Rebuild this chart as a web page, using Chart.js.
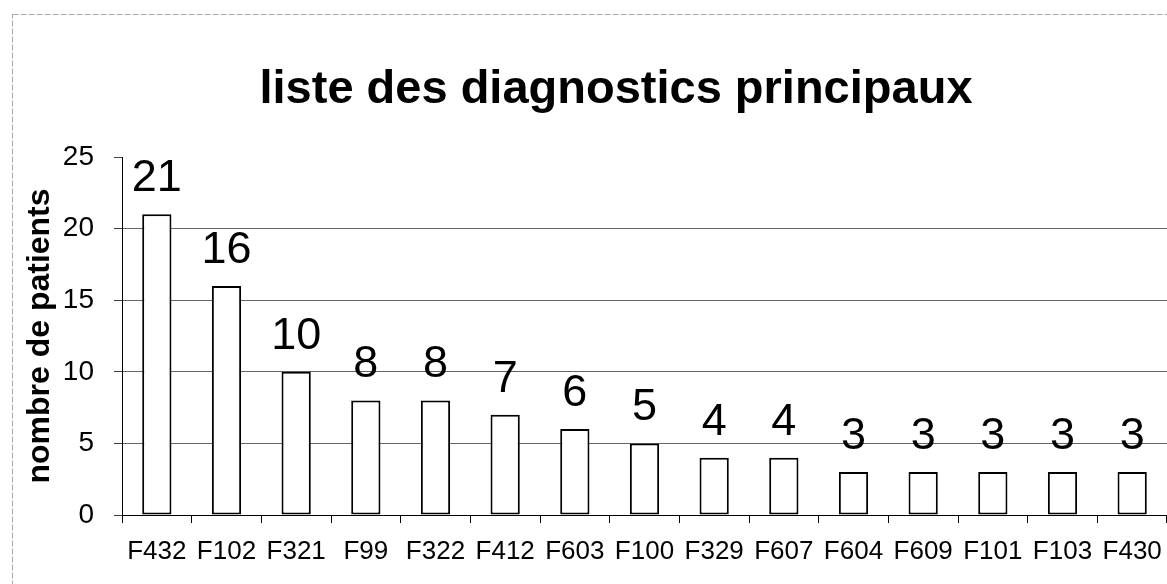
<!DOCTYPE html>
<html>
<head>
<meta charset="utf-8">
<script src="https://cdn.jsdelivr.net/npm/chart.js@4/dist/chart.umd.min.js"></script>
<style>
html,body{margin:0;padding:0;background:#fff;}
#wrap{width:1167px;height:584px;position:relative;}
</style>
</head>
<body>
<div id="wrap"><canvas id="c" width="1167" height="584"></canvas></div>
<script>
const categories = ["F432","F102","F321","F99","F322","F412","F603","F100","F329","F607","F604","F609","F101","F103","F430"];
const patients = [21,16,10,8,8,7,6,5,4,4,3,3,3,3,3];
const yTicks = [0,5,10,15,20,25];
const chartTitle = 'liste des diagnostics principaux';

const FONT = "'Liberation Sans', Arial, Helvetica, sans-serif";

const frame = {
  id: 'frame',
  beforeDraw(chart) {
    const c = chart.ctx;
    c.save();
    c.fillStyle = '#fff';
    c.fillRect(0,0,chart.width,chart.height);
    c.strokeStyle = '#aaa';
    c.lineWidth = 1;
    c.setLineDash([6,2]);
    c.strokeRect(12.5, 14.5, 1170, 600);
    c.restore();
  },
  afterDraw(chart) {
    const c = chart.ctx;
    c.save();
    c.font = "bold 47px " + FONT;
    c.fillStyle = '#000';
    c.textAlign = 'center';
    c.textBaseline = 'alphabetic';
    c.fillText(chartTitle, 616, 103);
    c.restore();
  }
};

const valueLabels = {
  id: 'valueLabels',
  afterDatasetsDraw(chart) {
    const c = chart.ctx;
    const meta = chart.getDatasetMeta(0);
    const data = chart.data.datasets[0].data;
    c.save();
    c.font = "45px " + FONT;
    c.fillStyle = '#000';
    c.textAlign = 'center';
    c.textBaseline = 'alphabetic';
    meta.data.forEach((bar, i) => {
      c.fillText(String(data[i]), bar.x, bar.y - 23);
    });
    c.restore();
  }
};

new Chart(document.getElementById('c'), {
  type: 'bar',
  data: {
    labels: categories,
    datasets: [{
      data: patients,
      backgroundColor: '#fff',
      borderColor: '#000',
      borderWidth: 2,
      borderSkipped: false,
      barPercentage: 0.42,
      categoryPercentage: 1.0
    }]
  },
  options: {
    responsive: false,
    animation: false,
    layout: { padding: { left: 0, right: 0, top: 157, bottom: 0 } },
    plugins: {
      legend: { display: false },
      tooltip: { enabled: false },
      title: { display: false }
    },
    scales: {
      x: {
        afterFit(s) { s.height = 69; s.paddingRight = 0; s.paddingLeft = 0; },
        grid: { offset: true, drawOnChartArea: false, tickLength: 8, color: '#000' },
        border: { color: '#000', width: 1 },
        ticks: { color: '#000', font: { family: FONT, size: 26 }, padding: 13, maxRotation: 0, autoSkip: false }
      },
      y: {
        min: 0, max: 25,
        afterFit(s) { s.width = 122; },
        afterBuildTicks(s) { s.ticks = yTicks.map(v => ({ value: v })); },
        grid: {
          tickLength: 8,
          color: ctx => (ctx.tick && ctx.tick.value === 25) ? 'rgba(0,0,0,0)' : '#666',
          tickColor: '#444'
        },
        border: { color: '#000', width: 1 },
        ticks: { color: '#000', font: { family: FONT, size: 28 }, padding: 20 },
        title: {
          display: true,
          text: 'nombre de patients',
          color: '#000',
          font: { family: FONT, size: 32, weight: 'bold' },
          padding: { top: 21, bottom: 0 }
        }
      }
    }
  },
  plugins: [frame, valueLabels]
});
</script>
</body>
</html>
